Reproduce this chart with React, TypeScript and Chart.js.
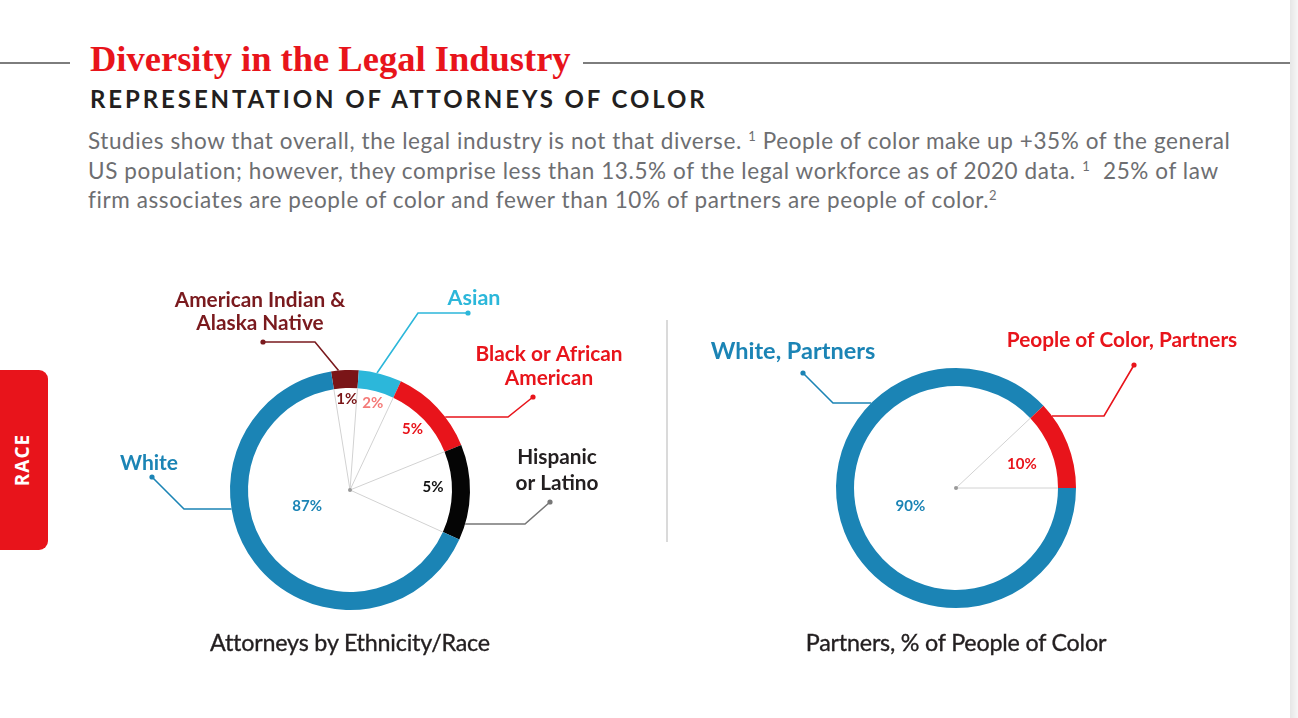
import React, { useEffect, useRef } from "react";
import { Chart, registerables } from "chart.js";

Chart.register(...registerables);

// ---------- data ----------
const attorneyCategories = ["American Indian & Alaska Native", "Asian", "Black or African American", "Hispanic or Latino", "White"];
const attorneyPercents = [1, 2, 5, 5, 87]; // printed values
const attorneyArcShares = [3.7, 5.8, 11.9, 12.9, 65.7]; // arc sizes as drawn in the picture
const attorneyColors = ["#7a1517", "#2cb7da", "#e8141b", "#050505", "#1b84b5"];
const attorneyPctColors = ["#7a1517", "#f47a78", "#e8141b", "#111111", "#1b84b5"];

const partnerCategories = ["White, Partners", "People of Color, Partners"];
const partnerPercents = [90, 10];
const partnerArcShares = [88, 12];
const partnerColors = ["#1b84b5", "#e8141b"];
const partnerPctColors = ["#1b84b5", "#e8141b"];

// ---------- annotation layout (relative to donut centre) ----------
type Callout = {
  lines: string[];
  color: string;
  font: string;
  text: [number, number];
  gap: number;
  dot: [number, number];
  elbow: [number, number];
  end: "h" | number;
  lineColor: string;
};

const attorneyCallouts: Callout[] = [
  { lines: ["American Indian &", "Alaska Native"], color: "#7a1a1e", font: "bold 20.8px Lato", text: [-90, -190], gap: 23, dot: [-87, -148], elbow: [-35, -148], end: -5.5, lineColor: "#7a1a1e" },
  { lines: ["Asian"], color: "#2cb7da", font: "bold 21.5px Lato", text: [124, -192], gap: 23, dot: [118, -177], elbow: [68, -177], end: 13, lineColor: "#2cb7da" },
  { lines: ["Black or African", "American"], color: "#e8141b", font: "bold 20.8px Lato", text: [199, -136], gap: 24, dot: [183, -93], elbow: [158, -73], end: "h", lineColor: "#e8141b" },
  { lines: ["Hispanic", "or Latino"], color: "#231f20", font: "bold 20.8px Lato", text: [207, -33], gap: 26, dot: [200, 12], elbow: [175, 34], end: "h", lineColor: "#777777" },
  { lines: ["White"], color: "#1b84b5", font: "bold 21px Lato", text: [-201, -27], gap: 23, dot: [-198, -13], elbow: [-166, 19], end: "h", lineColor: "#1b84b5" },
];
const attorneyPctPos = [[0.4, 91], [0, 90], [-0.5, 87], [-2.8, 83], [16.3, 46]];

const partnerCallouts: Callout[] = [
  { lines: ["White, Partners"], color: "#1b84b5", font: "bold 23.5px Lato", text: [-163, -137], gap: 23, dot: [-153, -115], elbow: [-123, -85], end: "h", lineColor: "#1b84b5" },
  { lines: ["People of Color, Partners"], color: "#e8141b", font: "bold 20.8px Lato", text: [166, -148], gap: 23, dot: [178, -123], elbow: [148, -72], end: "h", lineColor: "#e8141b" },
];
const partnerPctPos = [[0, 49], [2, 70]];

const calloutPlugin = {
  id: "callouts",
  afterDraw(chart: any, _args: any, opts: any) {
    const ctx = chart.ctx as CanvasRenderingContext2D;
    const meta = chart.getDatasetMeta(0);
    const arcs = meta.data as any[];
    if (!arcs.length) return;
    const cx = arcs[0].x;
    const cy = arcs[0].y;
    const R = arcs[0].outerRadius;
    const r = arcs[0].innerRadius;
    ctx.save();
    // radial guide lines
    ctx.strokeStyle = "#d2d2d2";
    ctx.lineWidth = 1;
    arcs.forEach((a) => {
      ctx.beginPath();
      ctx.moveTo(cx, cy);
      ctx.lineTo(cx + r * Math.cos(a.startAngle), cy + r * Math.sin(a.startAngle));
      ctx.stroke();
    });
    ctx.fillStyle = "#9a9a9a";
    ctx.beginPath();
    ctx.arc(cx, cy, 2, 0, Math.PI * 2);
    ctx.fill();
    // percentage labels
    ctx.textAlign = "center";
    ctx.textBaseline = "middle";
    ctx.font = "bold 15px Lato";
    arcs.forEach((a, i) => {
      const [dAng, rad] = opts.pctPos[i];
      const mid = (a.startAngle + a.endAngle) / 2 + (dAng * Math.PI) / 180;
      ctx.fillStyle = opts.pctColors[i];
      ctx.fillText(opts.percents[i] + "%", cx + rad * Math.cos(mid), cy + rad * Math.sin(mid));
    });
    // callouts
    (opts.callouts as Callout[]).forEach((c) => {
      const dx = cx + c.dot[0], dy = cy + c.dot[1];
      const ex = cx + c.elbow[0], ey = cy + c.elbow[1];
      let px: number, py: number;
      if (c.end === "h") {
        const yy = c.elbow[1];
        const xx = Math.sqrt(Math.max(R * R - yy * yy, 0)) * Math.sign(c.elbow[0]);
        px = cx + xx;
        py = cy + yy;
      } else {
        const ang = ((c.end as number) * Math.PI) / 180;
        px = cx + R * Math.sin(ang);
        py = cy - R * Math.cos(ang);
      }
      ctx.strokeStyle = c.lineColor;
      ctx.lineWidth = 1.6;
      ctx.beginPath();
      ctx.moveTo(dx, dy);
      ctx.lineTo(ex, ey);
      ctx.lineTo(px, py);
      ctx.stroke();
      ctx.fillStyle = c.lineColor;
      ctx.beginPath();
      ctx.arc(dx, dy, 2.6, 0, Math.PI * 2);
      ctx.fill();
      ctx.fillStyle = c.color;
      ctx.font = c.font;
      c.lines.forEach((line, k) => {
        ctx.fillText(line, cx + c.text[0], cy + c.text[1] + k * c.gap);
      });
    });
    ctx.restore();
  },
};

function Donut(props: {
  left: number; top: number; width: number; height: number;
  padding: { left: number; right: number; top: number; bottom: number };
  labels: string[]; shares: number[]; colors: string[]; rotation: number;
  percents: number[]; pctColors: string[]; pctPos: number[][]; callouts: Callout[];
}) {
  const ref = useRef<HTMLCanvasElement | null>(null);
  useEffect(() => {
    if (!ref.current) return;
    const chart = new Chart(ref.current, {
      type: "doughnut",
      data: {
        labels: props.labels,
        datasets: [{ data: props.shares, backgroundColor: props.colors, borderWidth: 0, hoverOffset: 0 }],
      },
      options: {
        animation: false,
        responsive: false,
        events: [],
        rotation: props.rotation,
        radius: 120,
        cutout: "85%",
        layout: { padding: props.padding },
        plugins: {
          legend: { display: false },
          tooltip: { enabled: false },
          callouts: { percents: props.percents, pctColors: props.pctColors, pctPos: props.pctPos, callouts: props.callouts },
        } as any,
      },
      plugins: [calloutPlugin],
    });
    return () => chart.destroy();
  }, []);
  return (
    <canvas
      ref={ref}
      width={props.width}
      height={props.height}
      style={{ position: "absolute", left: props.left, top: props.top, width: props.width, height: props.height }}
    />
  );
}

const sup: React.CSSProperties = { fontSize: 13, verticalAlign: 8, lineHeight: 0 };
const chartTitle: React.CSSProperties = {
  position: "absolute", top: 628, width: 400, textAlign: "center", lineHeight: "28px",
  fontSize: 23.3, fontWeight: 400, letterSpacing: -0.2, color: "#231f20",
  WebkitTextStroke: "0.35px #231f20",
};

export default function App() {
  return (
    <div style={{ position: "absolute", left: 0, top: 0, width: 1298, height: 718, background: "#fff", overflow: "hidden", fontFamily: "Lato, sans-serif" }}>
      <div style={{ position: "absolute", left: 1290, top: 0, width: 8, height: 718, background: "linear-gradient(to right, #e6e6e6, #f6f6f6)" }} />
      <div style={{ position: "absolute", left: 0, top: 62, width: 70, height: 2, background: "#7d7d7d" }} />
      <div style={{ position: "absolute", left: 583, top: 62, width: 707, height: 2, background: "#7d7d7d" }} />
      <div style={{ position: "absolute", left: 90, top: 39, height: 40, lineHeight: "40px", fontFamily: "'Liberation Serif', serif", fontWeight: 700, fontSize: 36.5, color: "#e8141b", whiteSpace: "nowrap" }}>
        Diversity in the Legal Industry
      </div>
      <div style={{ position: "absolute", left: 90, top: 86, lineHeight: "26px", fontWeight: 700, fontSize: 24, letterSpacing: 2.9, color: "#231f20", whiteSpace: "nowrap" }}>
        REPRESENTATION OF ATTORNEYS OF COLOR
      </div>
      <div style={{ position: "absolute", left: 88, top: 126, lineHeight: "29.5px", fontSize: 22.5, letterSpacing: 0.6, color: "#6d6e71", whiteSpace: "nowrap" }}>
        Studies show that overall, the legal industry is not that diverse. <sup style={sup}>1</sup> People of color make up +35% of the general
        <br />
        US population; however, they comprise less than 13.5% of the legal workforce as of 2020 data. <sup style={sup}>1</sup>&nbsp; 25% of law
        <br />
        firm associates are people of color and fewer than 10% of partners are people of color.<sup style={sup}>2</sup>
      </div>

      <div style={{ position: "absolute", left: 0, top: 370, width: 48, height: 180, background: "#e8141b", borderRadius: "0 9px 9px 0" }}>
        <div style={{ position: "absolute", left: 0, top: 0, width: 44, height: 180, display: "flex", alignItems: "center", justifyContent: "center" }}>
          <span style={{ transform: "rotate(-90deg)", color: "#fff", fontWeight: 700, fontSize: 19, letterSpacing: 1, fontFamily: "'Open Sans', sans-serif" }}>RACE</span>
        </div>
      </div>

      <div style={{ position: "absolute", left: 666, top: 320, width: 2, height: 222, background: "#dadada" }} />

      <Donut
        left={90} top={270} width={560} height={400}
        padding={{ left: 140, right: 180, top: 100, bottom: 60 }}
        labels={attorneyCategories} shares={attorneyArcShares} colors={attorneyColors} rotation={-9.1}
        percents={attorneyPercents} pctColors={attorneyPctColors} pctPos={attorneyPctPos} callouts={attorneyCallouts}
      />
      <Donut
        left={690} top={270} width={580} height={400}
        padding={{ left: 146, right: 194, top: 98, bottom: 62 }}
        labels={partnerCategories} shares={partnerArcShares} colors={partnerColors} rotation={90}
        percents={partnerPercents} pctColors={partnerPctColors} pctPos={partnerPctPos} callouts={partnerCallouts}
      />

      <div style={{ ...chartTitle, left: 150 }}>Attorneys by Ethnicity/Race</div>
      <div style={{ ...chartTitle, left: 756 }}>Partners, % of People of Color</div>
    </div>
  );
}
